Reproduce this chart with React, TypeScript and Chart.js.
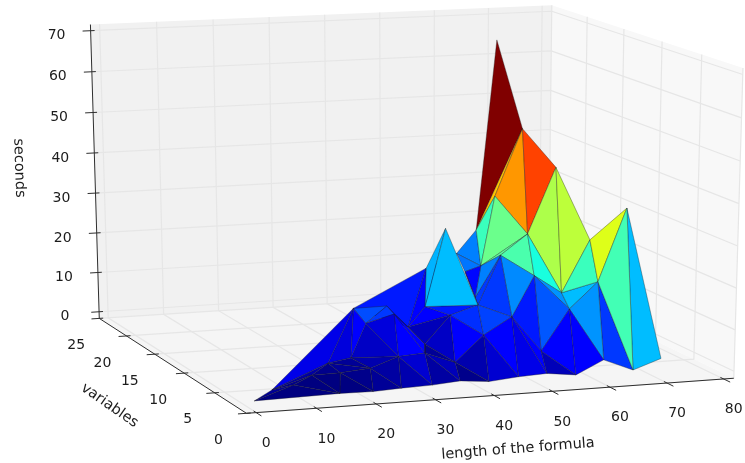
import React, { useEffect, useRef } from "react";
import { Chart, registerables } from "chart.js";
Chart.register(...registerables);

const lengthTicks = [0, 10, 20, 30, 40, 50, 60, 70, 80];
const variableTicks = [0, 5, 10, 15, 20, 25];
const secondsTicks = [0, 10, 20, 30, 40, 50, 60, 70];

const formulaLength = [0.8,4.8,27.7,31.2,26.4,30.1,31.8,34.9,27.3,21.5,17.6,22.5,17.4,12.6,8.4,15.4,20.9,26,31.5,36.9,37,34.2,44.7,46.9,54.4,52.1,45.1,52.4,50.1,58.1,57.6,57.2,64.2,71.6,71.4,76.4,62.6,64.8,67.2,74.9,76.1,71.1,64.7,62.2,59.9,54.1,54.5,65.2,66.6,74.6,41.1,47,52.3,56.3];
const variableCount = [1,2,10,8,7,6,3,8,3,5,5,3,3,3,2,1.3,1.2,1.5,1.7,2.2,3,5,10,7,9,12,14,17,18,20,16,18,22,25,21,20,18,15,12,14,10,10,9,12,15,14,5,4.7,1.9,4.1,1.6,2.2,2.5,1.7];
const secondsTaken = [0,1.2,11.3,13.3,10.4,13.2,6.4,7.9,6,4.4,3.5,3.7,3.1,3,2,0,0,0,0,0,3.7,6.5,8.1,5.7,7.7,8.2,6.7,23.1,12.5,13.9,14.1,11,17.8,63.4,43.7,34.3,29.6,22.3,9.9,20.8,31.7,14,8.7,14.6,17.4,8.2,2.9,0,0,0,0,0,0,0];

const faceCorners = [
[33,34,32],[32,34,36],[34,36,37],[34,35,37],[35,37,38],[35,38,39],[32,29,30],[29,30,31],[32,36,30],[36,37,30],[30,37,44],[44,37,43],[37,43,38],[43,42,38],[38,41,42],[38,39,41],[39,40,41],[40,48,49],[41,47,48],[41,40,48],[42,41,47],[43,46,42],[42,46,53],[42,53,47],[43,46,24],[44,43,24],[44,24,25],[44,45,25],[30,44,45],[30,45,31],[31,45,25],[28,29,26],[2,3,7],[2,7,28],[7,26,28],[7,26,22],[26,25,22],[22,25,23],[25,24,23],[27,28,26],[27,26,25],[7,22,21],[21,22,20],[22,23,20],[23,24,51],[24,46,52],[24,51,52],[46,52,53],[23,50,51],[20,23,50],[20,19,50],[6,18,19],[6,20,19],[21,6,20],[3,5,7],[5,7,21],[5,21,6],[5,6,8],[8,6,18],[8,18,17],[11,8,17],[11,17,16],[2,3,4],[3,4,5],[4,5,8],[4,8,9],[2,4,9],[2,9,10],[1,2,10],[9,8,11],[9,10,11],[10,12,11],[12,16,11],[12,15,16],[13,15,12],[10,13,12],[1,10,13],[1,13,14],[13,14,15],[0,1,14],[0,14,15]];
const faceLevels = [1,0.7,0.75,0.84,0.56,0.58,0.25,0.24,0.42,0.48,0.46,0.44,0.38,0.27,0.31,0.42,0.62,0.31,0.18,0.43,0.27,0.21,0.11,0.11,0.15,0.26,0.18,0.18,0.25,0.13,0.13,0.15,0.15,0.15,0.11,0.11,0.15,0.17,0.19,0.3,0.31,0.05,0.06,0.11,0.11,0.11,0.09,0.05,0.07,0.04,0.01,0.03,0.05,0.02,0.11,0.11,0.11,0.11,0.07,0.04,0.03,0.02,0.2,0.18,0.08,0.06,0.11,0.08,0.09,0.04,0.02,0.02,0.01,0,0,0.01,0.03,0.01,0,0.02,0];

const CAMERA = [
  [6.182708, -5.485596, -0.1696738, 256.051],
  [-0.2452234, -2.50821, -4.430131, 405.3515],
  [0.0004629395, 0.004042839, -0.000403692, 1],
];
const LIM = { x0: -1.6, x1: 81.8, y0: 0, y1: 25, z0: -1.7, z1: 71.5 };

type P3 = [number, number, number];
function project([x, y, z]: P3) {
  const w = CAMERA[2][0] * x + CAMERA[2][1] * y + CAMERA[2][2] * z + CAMERA[2][3];
  return {
    x: (CAMERA[0][0] * x + CAMERA[0][1] * y + CAMERA[0][2] * z + CAMERA[0][3]) / w,
    y: (CAMERA[1][0] * x + CAMERA[1][1] * y + CAMERA[1][2] * z + CAMERA[1][3]) / w,
  };
}
function seg(t: number[][], a: number, b: number) {
  for (let i = 1; i < t.length; i++) {
    if (a <= t[i][0]) {
      const f = (a - t[i - 1][0]) / (t[i][0] - t[i - 1][0]);
      return t[i - 1][1] + f * (t[i][1] - t[i - 1][1]);
    }
  }
  return b;
}
const JR = [[0,0],[0.35,0],[0.66,1],[0.89,1],[1,0.5]];
const JG = [[0,0],[0.125,0],[0.375,1],[0.64,1],[0.91,0],[1,0]];
const JB = [[0,0.5],[0.11,1],[0.34,1],[0.65,0],[1,0]];
function jet(v: number) {
  const c = (t: number[][]) => Math.round(255 * seg(t, v, t[t.length - 1][1]));
  return `rgb(${c(JR)},${c(JG)},${c(JB)})`;
}

function lineSet(corners: P3[], color: string, width: number) {
  return { data: corners.map(project), showLine: true, borderColor: color, borderWidth: width, pointRadius: 0, fill: false, clip: false, tension: 0 };
}
function shapeSet(corners: P3[], fillColor: string, border: string, width: number) {
  const closed = [...corners, corners[0]];
  return { data: closed.map(project), showLine: true, backgroundColor: fillColor, borderColor: border, borderWidth: width, pointRadius: 0, fill: "shape", clip: false, tension: 0, borderJoinStyle: "round" };
}

function buildDatasets() {
  const { x0, x1, y0, y1, z0, z1 } = LIM;
  const GRID = "#e6e6e6";
  const AXIS = "#2e2e2e";
  const drawn: any[] = [];
  drawn.push(shapeSet([[x0,y1,z0],[x1,y1,z0],[x1,y1,z1],[x0,y1,z1]], "#f1f1f1", "#f1f1f1", 0));
  drawn.push(shapeSet([[x1,y0,z0],[x1,y1,z0],[x1,y1,z1],[x1,y0,z1]], "#f8f8f8", "#f8f8f8", 0));
  drawn.push(shapeSet([[x0,y0,z0],[x1,y0,z0],[x1,y1,z0],[x0,y1,z0]], "#f5f5f5", "#f5f5f5", 0));
  for (const t of lengthTicks) drawn.push(lineSet([[t,y0,z0],[t,y1,z0],[t,y1,z1]], GRID, 1.2));
  for (const t of variableTicks) drawn.push(lineSet([[x0,t,z0],[x1,t,z0],[x1,t,z1]], GRID, 1.2));
  for (const t of secondsTicks) drawn.push(lineSet([[x0,y1,t],[x1,y1,t],[x1,y0,t]], GRID, 1.2));
  drawn.push(lineSet([[x0,y1,z1],[x0,y1,z0],[x0,y0,z0],[x1,y0,z0]], AXIS, 1));
  for (const t of lengthTicks) drawn.push(lineSet([[t,y0-0.8,z0],[t,y0+0.4,z0]], AXIS, 1));
  for (const t of variableTicks) drawn.push(lineSet([[x0-1.4,t,z0],[x0+0.7,t,z0]], AXIS, 1));
  for (const t of secondsTicks) drawn.push(lineSet([[x0-1.4,y1,t],[x0+0.7,y1,t]], AXIS, 1));
  faceCorners.forEach((f, i) => {
    const corners = f.map((k) => [formulaLength[k], variableCount[k], secondsTaken[k]] as P3);
    drawn.push(shapeSet(corners, jet(faceLevels[i]), "rgba(30,30,30,0.5)", 0.7));
  });
  return drawn.map((d, i) => ({ ...d, order: drawn.length - i }));
}

const textPlugin = {
  id: "axisText",
  afterDatasetsDraw(chart: any) {
    const { ctx } = chart;
    const { x0, y0, y1, z0 } = LIM;
    ctx.save();
    ctx.fillStyle = "#1c1c1c";
    ctx.textAlign = "center";
    ctx.textBaseline = "middle";
    const put = (s: string, x: number, y: number, deg = 0) => {
      ctx.save();
      ctx.translate(x, y);
      ctx.rotate((deg * Math.PI) / 180);
      ctx.fillText(s, 0, 0);
      ctx.restore();
    };
    ctx.font = "14px 'DejaVu Sans'";
    for (const t of lengthTicks) { const p = project([t, y0, z0]); put(String(t), p.x + 10, p.y + 30.7); }
    for (const t of variableTicks) { const p = project([x0, t, z0]); put(String(t), p.x - 28 + 0.2 * t, p.y + 27); }
    for (const t of secondsTicks) { const p = project([x0, y1, t]); put(String(t), p.x - 34, p.y + 5); }
    ctx.font = "14.5px 'DejaVu Sans'";
    put("length of the formula", 518, 449, -4.5);
    put("variables", 109.5, 405.5, 35);
    put("seconds", 19, 168, 88);
    ctx.restore();
  },
};

export default function App() {
  const ref = useRef<HTMLCanvasElement | null>(null);
  useEffect(() => {
    const chart = new Chart(ref.current as HTMLCanvasElement, {
      type: "scatter",
      data: { datasets: buildDatasets() as any },
      options: {
        animation: false,
        responsive: false,
        devicePixelRatio: 1,
        layout: { padding: 0 },
        plugins: { legend: { display: false }, tooltip: { enabled: false } },
        scales: {
          x: { type: "linear", min: 0, max: 745, display: false },
          y: { type: "linear", min: 0, max: 463, reverse: true, display: false },
        },
      },
      plugins: [textPlugin],
    } as any);
    return () => chart.destroy();
  }, []);
  return <canvas ref={ref} width={745} height={463} style={{ position: "fixed", left: 0, top: 0, width: 745, height: 463, filter: "blur(0.4px)" }} />;
}
